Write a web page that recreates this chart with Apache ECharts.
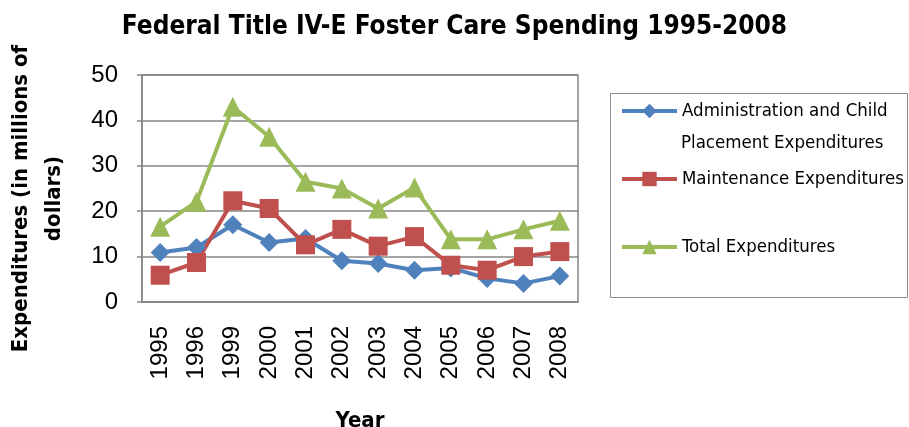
<!DOCTYPE html>
<html>
<head>
<meta charset="utf-8">
<script src="https://cdn.jsdelivr.net/npm/echarts@6/dist/echarts.min.js"></script>
<style>html,body{margin:0;padding:0;background:#fff;}#c{width:909px;height:427px;}</style>
</head>
<body>
<div id="c"></div>
<script>
const years = ['1995','1996','1999','2000','2001','2002','2003','2004','2005','2006','2007','2008'];
const adminValues = [10.9, 12.0, 17.0, 13.1, 14.0, 9.1, 8.5, 7.0, 7.5, 5.2, 4.1, 5.7];
const maintenanceValues = [5.9, 8.7, 22.3, 20.6, 12.6, 16.0, 12.3, 14.4, 8.1, 7.0, 10.0, 11.1];
const totalValues = [16.6, 22.1, 43.0, 36.4, 26.5, 25.0, 20.6, 25.2, 13.8, 13.8, 16.0, 17.9];
const yTicks = {min: 0, max: 50, interval: 10};

const NARROW = '"Liberation Sans Narrow", "DejaVu Sans Condensed", sans-serif';
const chart = echarts.init(document.getElementById('c'));
chart.setOption({
  animation: false,
  backgroundColor: '#fff',
  title: {
    text: 'Federal Title IV-E Foster Care Spending 1995-2008',
    left: 'center', top: 9,
    textStyle: {fontFamily: NARROW, fontWeight: 'bold', fontSize: 26, color: '#000'}
  },
  grid: {left: 142, top: 75, right: 331, bottom: 125, show: true, borderColor: '#868686', borderWidth: 1.5,
         containLabel: false, outerBoundsMode: 'none'},
  legend: {
    orient: 'vertical', left: 620, top: 94, padding: 0,
    itemWidth: 55, itemHeight: 18, itemGap: 34,
    lineStyle: {width: 4},
    textStyle: {fontFamily: NARROW, fontSize: 18.5, color: '#000', lineHeight: 34},
    data: ['Administration and Child', 'Maintenance Expenditures', 'Total Expenditures']
  },
  graphic: [
    {type: 'rect', shape: {x: 610.5, y: 93.5, width: 297, height: 204}, style: {fill: 'none', stroke: '#8c8c8c', lineWidth: 1}},
    {type: 'text', left: 681, top: 145 - 11, style: {text: 'Placement Expenditures', font: '18.5px ' + NARROW, fill: '#000'}}
  ],
  xAxis: {
    type: 'category', data: years, boundaryGap: true,
    name: 'Year', nameLocation: 'middle', nameGap: 108,
    nameTextStyle: {fontFamily: NARROW, fontWeight: 'bold', fontSize: 22, color: '#000'},
    axisLine: {lineStyle: {color: '#868686', width: 1.5}},
    axisTick: {show: false},
    axisLabel: {rotate: 90, margin: 24, fontFamily: 'Liberation Sans, sans-serif', fontSize: 24, color: '#000'}
  },
  yAxis: {
    type: 'value', min: yTicks.min, max: yTicks.max, interval: yTicks.interval,
    name: 'Expenditures (in millions of\ndollars)', nameLocation: 'middle', nameGap: 71,
    nameTextStyle: {fontFamily: NARROW, fontWeight: 'bold', fontSize: 22, color: '#000', lineHeight: 33, padding: [0, 20, 0, 0]},
    axisLine: {show: true, lineStyle: {color: '#868686', width: 1.5}},
    axisTick: {show: true, length: 5, lineStyle: {color: '#868686', width: 1.5}},
    axisLabel: {margin: 24, fontFamily: 'Liberation Sans, sans-serif', fontSize: 24, color: '#000'},
    splitLine: {lineStyle: {color: '#868686', width: 1.5}}
  },
  series: [
    {name: 'Administration and Child', type: 'line', data: adminValues, symbol: 'diamond', symbolSize: 19,
     itemStyle: {color: '#4F81BD'}, lineStyle: {color: '#4F81BD', width: 4}},
    {name: 'Maintenance Expenditures', type: 'line', data: maintenanceValues, symbol: 'rect', symbolSize: 19,
     itemStyle: {color: '#C0504D'}, lineStyle: {color: '#C0504D', width: 4}},
    {name: 'Total Expenditures', type: 'line', data: totalValues, symbol: 'triangle', symbolSize: 20,
     itemStyle: {color: '#9BBB59'}, lineStyle: {color: '#9BBB59', width: 4}}
  ]
});
</script>
</body>
</html>
